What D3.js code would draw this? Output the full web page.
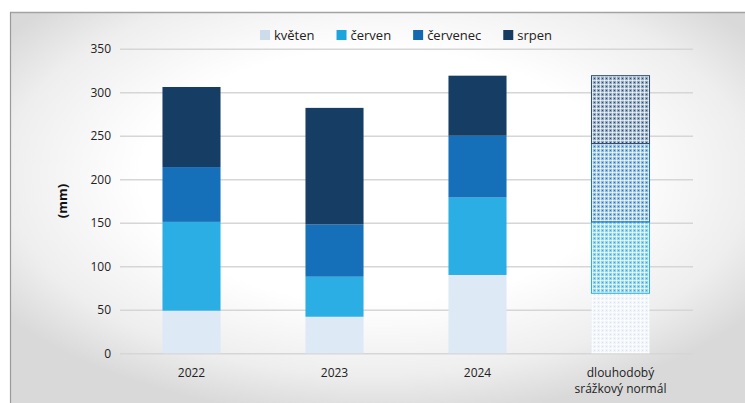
<!DOCTYPE html>
<html>
<head>
<meta charset="utf-8">
<script src="https://cdn.jsdelivr.net/npm/d3@7"></script>
<style>
  html, body { margin: 0; padding: 0; background: #fff; }
  svg { display: block; font-family: "Open Sans", "Noto Sans", sans-serif; }
</style>
</head>
<body>
<svg id="chart" width="745" height="403"></svg>
<script>
// Srážky květen–srpen, stacked by month

const categories = ["2022", "2023", "2024", "normal"];
const categoryLabels = [["2022"], ["2023"], ["2024"], ["dlouhodobý", "srážkový normál"]];
const months = ["květen", "červen", "červenec", "srpen"];

const kveten   = [49, 42, 90, 69];
const cerven   = [102, 46, 89, 82];
const cervenec = [63, 60, 71, 90];
const srpen    = [92, 134, 69, 78];

const yTicks = [0, 50, 100, 150, 200, 250, 300, 350];

const COLORS = ["#dde9f5", "#2aaee4", "#1570b9", "#163d63"];
const LEGEND_COLORS = ["#cddcea", "#1ea4dc", "#1468b0", "#163a60"];
const STROKES = ["none", "#2aaee4", "#1b6fb8", "#2b4b6c"];

const W = 745, H = 403;
const svg = d3.select("#chart");
const defs = svg.append("defs");

// frame background
const grad = defs.append("radialGradient")
    .attr("id", "bg")
    .attr("cx", "50%").attr("cy", "42%")
    .attr("r", "62%");
grad.append("stop").attr("offset", "52%").attr("stop-color", "#ffffff");
grad.append("stop").attr("offset", "82%").attr("stop-color", "#eeeeee");
grad.append("stop").attr("offset", "100%").attr("stop-color", "#d9d9d9");

svg.append("rect")
    .attr("x", 10).attr("y", 12)
    .attr("width", W - 10).attr("height", H - 12)
    .attr("fill", "url(#bg)");
svg.append("line")
    .attr("x1", 10).attr("y1", 12.5).attr("x2", W).attr("y2", 12.5)
    .attr("stroke", "#a3a3a3").attr("stroke-width", 1.5);
svg.append("line")
    .attr("x1", 10.5).attr("y1", 12).attr("x2", 10.5).attr("y2", H)
    .attr("stroke", "#9a9a9a").attr("stroke-width", 1.2);

// patterns for the long-term normal bar
const patternBase = ["#eef4fa", "#92d3f2", "#90bce4", "#8fa8bf"];
const patternDot = ["#d3e3f1", "#1aa2dc", "#1566b0", "#1c3a5c"];
months.forEach((m, i) => {
    const p = defs.append("pattern")
        .attr("id", "pat" + i)
        .attr("patternUnits", "userSpaceOnUse")
        .attr("width", 4).attr("height", 4);
    p.append("rect").attr("width", 4).attr("height", 4).attr("fill", patternBase[i]);
    p.append("rect").attr("x", 0).attr("y", 0).attr("width", 4).attr("height", 1)
        .attr("fill", "#ffffff").attr("opacity", 0.65);
    p.append("rect").attr("x", 0).attr("y", 0).attr("width", 1).attr("height", 4)
        .attr("fill", "#ffffff").attr("opacity", 0.65);
    p.append("rect").attr("x", 2).attr("y", 2).attr("width", 1).attr("height", 1)
        .attr("fill", patternDot[i]).attr("opacity", 0.85);
});

const x = d3.scaleBand()
    .domain(categories)
    .range([120, 692])
    .paddingInner(0.594)
    .paddingOuter(0.297);

const y = d3.scaleLinear()
    .domain([0, 350])
    .range([353.3, 48.7]);

// grid lines + y labels
const yAxis = svg.append("g")
    .attr("transform", "translate(120,0)")
    .call(d3.axisLeft(y).tickValues(yTicks).tickSize(-573).tickPadding(9));
yAxis.select(".domain").remove();
yAxis.selectAll(".tick line")
    .attr("stroke", "#d6d6d6")
    .attr("stroke-width", 1.6);
yAxis.selectAll(".tick text")
    .attr("font-size", "12px")
    .attr("font-family", "Open Sans, sans-serif")
    .attr("fill", "#222");

svg.append("text")
    .attr("transform", `translate(67,${y(175)}) rotate(-90)`)
    .attr("text-anchor", "middle")
    .attr("font-size", "13px")
    .attr("font-weight", "bold")
    .attr("fill", "#111")
    .text("(mm)");

// stacked bars
const rows = categories.map((c, i) => ({
    cat: c,
    "květen": kveten[i],
    "červen": cerven[i],
    "červenec": cervenec[i],
    "srpen": srpen[i]
}));
const stack = d3.stack().keys(months)(rows);

stack.forEach((layer, li) => {
    svg.append("g")
        .selectAll("rect")
        .data(layer)
        .join("rect")
        .attr("x", d => x(d.data.cat))
        .attr("y", d => y(d[1]))
        .attr("width", x.bandwidth())
        .attr("height", d => y(d[0]) - y(d[1]))
        .attr("fill", d => d.data.cat === "normal" ? `url(#pat${li})` : COLORS[li])
        .attr("stroke", d => d.data.cat === "normal" ? STROKES[li] : "none")
        .attr("stroke-width", 1);
});

// x labels
categories.forEach((c, i) => {
    const t = svg.append("text")
        .attr("x", x(c) + x.bandwidth() / 2)
        .attr("y", 377)
        .attr("text-anchor", "middle")
        .attr("font-size", "12px")
        .attr("fill", "#222");
    categoryLabels[i].forEach((line, k) => {
        t.append("tspan")
            .attr("x", x(c) + x.bandwidth() / 2)
            .attr("dy", k === 0 ? 0 : 16)
            .text(line);
    });
});

// legend
const legend = svg.append("g").attr("font-size", "13px").attr("fill", "#222");
let lx = 0;
months.forEach((m, i) => {
    const g = legend.append("g");
    g.append("rect")
        .attr("x", 0).attr("y", -5)
        .attr("width", 10).attr("height", 10)
        .attr("fill", LEGEND_COLORS[i]);
    const txt = g.append("text")
        .attr("x", 14).attr("y", 0)
        .attr("dominant-baseline", "central")
        .text(m);
    const w = 14 + txt.node().getComputedTextLength();
    g.attr("transform", `translate(${lx},0)`);
    lx += w + 22;
});
const totalW = lx - 22;
legend.attr("transform", `translate(${406 - totalW / 2},35)`);
</script>
</body>
</html>
